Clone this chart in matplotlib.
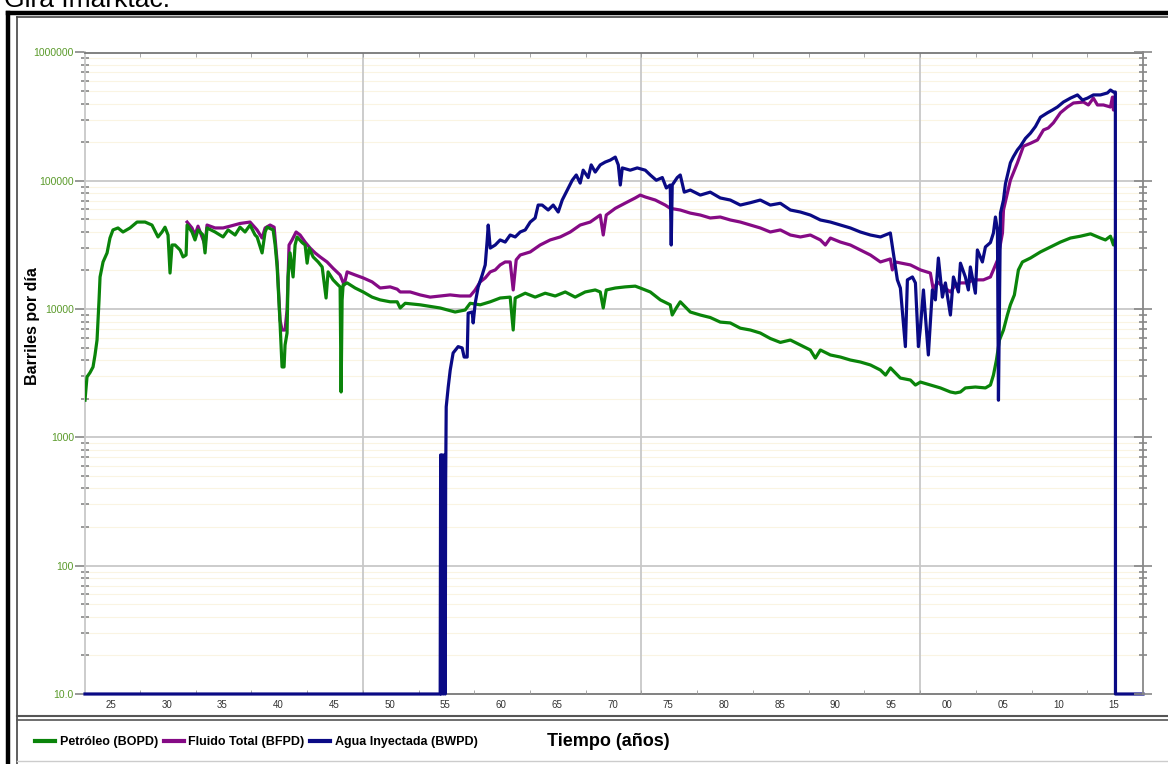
import numpy as np
import matplotlib.pyplot as plt
from matplotlib.lines import Line2D
from matplotlib.ticker import FixedLocator, NullFormatter

W, H = 1168, 764

# ---- data (year, barrels per day) ----
oil_years = [1922.67, 1922.85, 1923.12, 1923.39, 1923.57, 1923.75, 1923.93, 1924.02, 1924.29, 1924.65,
             1924.91, 1925.18, 1925.63, 1926.08, 1926.71, 1927.34, 1928.06, 1928.68, 1929.22, 1929.58,
             1929.85, 1930.12, 1930.30, 1930.48, 1930.75, 1931.20, 1931.47, 1931.74, 1931.83, 1932.27,
             1932.54, 1932.81, 1933.26, 1933.44, 1933.62, 1934.34, 1935.06, 1935.51, 1936.14, 1936.58,
             1937.03, 1937.48, 1937.93, 1938.11, 1938.56, 1938.83, 1939.01, 1939.55, 1939.73, 1939.91,
             1940.17, 1940.26, 1940.35, 1940.53, 1940.62, 1940.80, 1940.89, 1941.07, 1941.34, 1941.52,
             1941.70, 1942.15, 1942.42, 1942.60, 1942.78, 1943.14, 1943.59, 1943.95, 1944.30, 1944.48,
             1944.93, 1945.38, 1945.56, 1945.65, 1945.74, 1945.83, 1946.19, 1946.91, 1947.63, 1948.43,
             1949.15, 1950.05, 1950.68, 1950.95, 1951.40, 1952.74, 1954.54, 1955.88, 1956.78, 1957.23,
             1958.13, 1959.03, 1959.92, 1960.82, 1961.09, 1961.27, 1962.17, 1963.06, 1963.96, 1964.86,
             1965.76, 1966.65, 1967.55, 1968.45, 1968.90, 1969.17, 1969.44, 1970.25, 1971.14, 1972.04,
             1972.49, 1973.39, 1974.29, 1975.18, 1975.36, 1975.72, 1976.08, 1976.98, 1977.88, 1978.77,
             1979.67, 1980.57, 1981.47, 1982.37, 1983.26, 1984.16, 1985.06, 1985.96, 1986.86, 1987.75,
             1988.20, 1988.65, 1989.55, 1990.45, 1991.34, 1992.24, 1993.14, 1994.04, 1994.50, 1994.94,
             1995.83, 1996.73, 1997.18, 1997.63, 1998.52, 1999.42, 2000.32, 2000.77, 2001.22, 2001.66,
             2002.56, 2003.46, 2003.91, 2004.18, 2004.45, 2004.72, 2005.08, 2005.43, 2005.70, 2006.06,
             2006.42, 2006.78, 2007.50, 2008.40, 2009.30, 2010.19, 2011.09, 2011.99, 2012.89, 2013.78,
             2014.23, 2014.68, 2014.95, 2015.10]
oil_bopd = [1950, 2960, 3200, 3540, 4400, 5740, 11800, 17800, 23300, 27400,
            35800, 41400, 42900, 39900, 42900, 47700, 47700, 45200, 36500, 39900,
            43500, 37800, 19100, 31600, 31600, 28900, 25500, 26400, 45200, 39900,
            34600, 41400, 37800, 27400, 42900, 39900, 36500, 41400, 37800, 43500,
            39900, 45200, 37800, 36500, 27400, 39900, 43500, 41400, 31600, 21300,
            7800, 5250, 3540, 3540, 5250, 6510, 17800, 27400, 17800, 31600,
            36500, 33000, 31600, 22800, 29900, 25500, 23300, 21300, 12200, 19500,
            16900, 15400, 14900, 2260, 11800, 15400, 16000, 14600, 13600, 12400,
            11800, 11400, 11400, 10200, 11100, 10800, 10200, 9490, 9840, 11100,
            10800, 11400, 12200, 12400, 6870, 12200, 13300, 12400, 13300, 12650,
            13600, 12400, 13600, 14100, 13600, 10200, 14100, 14600, 14900, 15100,
            14600, 13600, 11800, 10800, 9000, 10200, 11400, 9490, 8990, 8600,
            7920, 7800, 7100, 6870, 6510, 5900, 5500, 5740, 5250, 4800,
            4150, 4800, 4390, 4230, 4010, 3870, 3670, 3350, 3060, 3480,
            2900, 2800, 2560, 2700, 2560, 2430, 2260, 2220, 2260, 2430,
            2470, 2430, 2560, 3060, 4010, 5740, 6870, 8990, 10800, 12900,
            20200, 23300, 25000, 27900, 30500, 33300, 35800, 37000, 38600, 35800,
            34600, 37000, 31600, 35800]

fluid_years = [1931.83, 1932.27, 1932.54, 1932.81, 1933.44, 1933.62, 1934.34, 1935.06, 1935.69, 1936.58,
               1937.48, 1938.11, 1938.56, 1938.83, 1939.28, 1939.64, 1939.91, 1940.17, 1940.35, 1940.62,
               1940.80, 1940.98, 1941.25, 1941.61, 1941.97, 1942.42, 1942.87, 1943.32, 1943.77, 1944.39,
               1944.93, 1945.56, 1945.92, 1946.19, 1946.91, 1947.63, 1948.43, 1949.15, 1950.05, 1950.68,
               1950.95, 1951.85, 1952.74, 1953.64, 1954.54, 1955.43, 1956.33, 1957.23, 1957.68, 1958.13,
               1958.58, 1959.03, 1959.48, 1959.92, 1960.37, 1960.82, 1961.09, 1961.36, 1961.72, 1962.62,
               1963.51, 1964.41, 1965.31, 1966.21, 1967.10, 1968.00, 1968.90, 1969.17, 1969.44, 1970.25,
               1971.14, 1972.04, 1972.49, 1972.94, 1973.84, 1974.73, 1975.18, 1976.08, 1976.98, 1977.88,
               1978.77, 1979.67, 1980.57, 1981.47, 1982.37, 1983.26, 1984.16, 1985.06, 1985.96, 1986.86,
               1987.75, 1988.65, 1989.10, 1989.55, 1990.45, 1991.34, 1992.24, 1993.14, 1994.04, 1994.93,
               1995.11, 1995.38, 1996.73, 1997.63, 1998.52, 1998.79, 1999.15, 1999.69, 2000.32, 2000.77,
               2001.22, 2001.84, 2002.38, 2003.28, 2003.91, 2004.54, 2004.99, 2005.08, 2005.70, 2006.33,
               2006.87, 2007.50, 2008.13, 2008.67, 2009.10, 2009.56, 2010.19, 2010.82, 2011.36, 2012.26,
               2012.70, 2013.15, 2013.51, 2014.05, 2014.68, 2014.86, 2014.95, 2015.12]
fluid_bfpd = [47700, 42900, 37800, 44300, 31600, 45200, 42900, 42900, 44300, 46500,
              47700, 41400, 35800, 42900, 45200, 43500, 23300, 8220, 6870, 6870,
              9840, 31600, 34600, 39900, 37800, 33300, 29900, 27400, 25500, 23300,
              20800, 18450, 15400, 19500, 18450, 17500, 16300, 14600, 14900, 14300,
              13600, 13600, 12900, 12400, 12650, 12900, 12650, 12650, 14100, 16300,
              17500, 19500, 20200, 22100, 23300, 23300, 14100, 24200, 26400, 27900,
              31600, 34600, 36500, 39900, 45200, 47700, 54100, 37800, 54100, 61000,
              67000, 73500, 77400, 74800, 70800, 64700, 61000, 59200, 56000, 54100,
              51300, 52200, 49500, 47700, 45200, 42900, 39900, 41400, 37800, 36500,
              37800, 34600, 31600, 35800, 33300, 31600, 28900, 26400, 23300, 24600,
              20200, 23300, 22100, 20200, 19100, 14100, 16300, 14900, 13600, 15400,
              16000, 16000, 16900, 16900, 17800, 24000, 39200, 59200, 101000, 138000,
              186000, 196000, 208000, 249000, 258000, 283000, 339000, 376000, 404000, 411000,
              390000, 441000, 390000, 390000, 376000, 449000, 356000, 467000]

water_years = [1922.67, 1954.54, 1954.58, 1954.63, 1954.72, 1954.81, 1954.90, 1954.99, 1955.03, 1955.08,
               1955.26, 1955.44, 1955.70, 1956.15, 1956.51, 1956.69, 1956.96, 1957.05, 1957.41, 1957.50,
               1957.68, 1957.95, 1958.31, 1958.58, 1958.76, 1958.85, 1959.03, 1959.48, 1959.92, 1960.37,
               1960.82, 1961.27, 1961.72, 1962.17, 1962.62, 1963.06, 1963.33, 1963.69, 1964.23, 1964.68,
               1965.13, 1965.49, 1965.94, 1966.39, 1966.75, 1967.10, 1967.37, 1967.82, 1968.09, 1968.45,
               1968.90, 1969.35, 1969.80, 1970.25, 1970.52, 1970.70, 1970.88, 1971.59, 1972.22, 1972.94,
               1973.39, 1973.93, 1974.47, 1974.83, 1975.18, 1975.27, 1975.36, 1975.81, 1976.08, 1976.44,
               1976.98, 1977.88, 1978.77, 1979.67, 1980.57, 1981.47, 1982.37, 1983.26, 1984.16, 1985.06,
               1985.96, 1986.86, 1987.75, 1988.65, 1989.55, 1990.45, 1991.34, 1992.24, 1993.14, 1994.04,
               1994.93, 1995.20, 1995.56, 1995.83, 1996.28, 1996.46, 1996.91, 1997.18, 1997.45, 1997.63,
               1997.90, 1998.34, 1998.70, 1998.97, 1999.24, 1999.60, 1999.87, 2000.32, 2000.59, 2001.04,
               2001.22, 2001.66, 2001.93, 2002.11, 2002.56, 2002.74, 2003.19, 2003.46, 2003.91, 2004.18,
               2004.36, 2004.54, 2004.63, 2004.81, 2005.08, 2005.26, 2005.70, 2005.97, 2006.33, 2006.60,
               2007.05, 2007.50, 2007.95, 2008.40, 2009.03, 2009.47, 2009.92, 2010.46, 2011.09, 2011.72,
               2012.17, 2012.62, 2013.15, 2013.78, 2014.41, 2014.68, 2014.95, 2015.12, 2015.13, 2017.60]
water_bwpd = [10, 10, 730, 10, 730, 10, 730, 10, 466, 1730,
              2470, 3350, 4550, 5100, 4980, 4230, 4230, 9300, 9490, 7800,
              11100, 14900, 18450, 22100, 34600, 45200, 29900, 31600, 34600, 33300,
              37800, 36500, 39900, 41400, 47700, 51300, 64700, 64700, 59200, 64700,
              57100, 70800, 84700, 101000, 111000, 96000, 121000, 106000, 133000, 117000,
              133000, 140000, 145000, 153000, 133000, 92700, 126000, 121000, 126000, 121000,
              111000, 101000, 106000, 87900, 92700, 31600, 92700, 106000, 111000, 81600,
              84700, 77400, 81600, 73500, 70800, 64700, 67500, 70800, 64700, 66800,
              59200, 57100, 54100, 49500, 47700, 45200, 42900, 39900, 37800, 36500,
              39200, 27400, 16900, 14600, 5100, 16900, 17800, 16000, 5100, 7200,
              14100, 4390, 14100, 11800, 25000, 12400, 16000, 8990, 17800, 13600,
              22800, 17800, 14100, 21300, 13300, 28900, 23300, 30500, 33000, 39200,
              52200, 41400, 1950, 56000, 70800, 95000, 138000, 154000, 174000, 186000,
              214000, 235000, 265000, 313000, 339000, 356000, 376000, 411000, 441000, 467000,
              426000, 441000, 467000, 467000, 484000, 510000, 492000, 492000, 10, 10]

x_tick_years = list(range(1925, 2016, 5))
x_tick_labels = ['25', '30', '35', '40', '45', '50', '55', '60', '65', '70',
                 '75', '80', '85', '90', '95', '00', '05', '10', '15']
y_tick_values = [10, 100, 1000, 10000, 100000, 1000000]
y_tick_labels = ['10.0', '100', '1000', '10000', '100000', '1000000']
grid_years = [1947.6, 1972.6, 1997.6]

series_names = ['Petróleo (BOPD)', 'Fluido Total (BFPD)', 'Agua Inyectada (BWPD)']
c_oil, c_fluid, c_water = '#0a840a', '#850a85', '#0a0a85'

plt.rcParams['font.family'] = ['Liberation Sans', 'DejaVu Sans']

fig = plt.figure(figsize=(W / 100, H / 100), dpi=100)


def fx(x):
    return x / W


def fy(y):
    return 1 - y / H


# frames around the chart
fig.add_artist(Line2D([fx(8), fx(8)], [fy(13), 0], color='black', lw=3.2))
fig.add_artist(Line2D([fx(8), 1], [fy(13), fy(13)], color='black', lw=3.2))
fig.add_artist(Line2D([fx(17), fx(17)], [fy(17), 0], color='#444444', lw=1.2))
fig.add_artist(Line2D([fx(17), 1], [fy(17), fy(17)], color='#444444', lw=1.2))
fig.add_artist(Line2D([fx(17), 1], [fy(716), fy(716)], color='#555555', lw=1.5))
fig.add_artist(Line2D([fx(17), 1], [fy(720), fy(720)], color='#555555', lw=1.2))
fig.add_artist(Line2D([fx(17), 1], [fy(761), fy(761)], color='#cccccc', lw=1.0))

# caption of the page above the chart, cut by the crop as in the source
fig.text(fx(4), fy(7), 'Gira Imarktac.', fontsize=19, va='baseline', ha='left')

ax = fig.add_axes([fx(85), fy(694), fx(1143 - 85), (694 - 52.5) / H])
ax.set_yscale('log')
ax.set_xlim(1922.67, 2017.6)
ax.set_ylim(10, 1e6)

# grid
for dec in range(1, 6):
    for m in range(2, 10):
        ax.axhline(m * 10 ** dec, color='#faf4e2', lw=0.8, zorder=0)
for v in y_tick_values[1:-1]:
    ax.axhline(v, color='#c8c8c8', lw=1.3, zorder=0)
for g in grid_years:
    ax.axvline(g, color='#c8c8c8', lw=1.3, zorder=0)

ax.plot(fluid_years, fluid_bfpd, color=c_fluid, lw=2.3, zorder=3)
ax.plot(oil_years, oil_bopd, color=c_oil, lw=2.3, zorder=4)
ax.plot(water_years, water_bwpd, color=c_water, lw=2.3, zorder=5, clip_on=False)

ax.set_xticks(x_tick_years)
ax.set_xticklabels(x_tick_labels)
ax.xaxis.set_minor_locator(FixedLocator(np.arange(1927.6, 2017.7, 5)))
ax.tick_params(axis='x', which='major', length=0, labelsize=7, labelcolor='#333333', pad=4)
ax.tick_params(axis='x', which='minor', direction='in', length=3, color='#999999', top=True)

ax.set_yticks(y_tick_values)
ax.set_yticklabels(y_tick_labels)
ax.yaxis.set_minor_formatter(NullFormatter())
ax.tick_params(axis='y', which='major', direction='out', length=7, width=1.2, color='#888888',
               labelsize=7.5, labelcolor='#5a9a2a', pad=1)
ax.tick_params(axis='y', which='minor', direction='inout', length=6, width=1.2, color='#888888')

ax2 = ax.twinx()
ax2.set_yscale('log')
ax2.set_ylim(10, 1e6)
ax2.set_yticks(y_tick_values)
ax2.yaxis.set_major_formatter(NullFormatter())
ax2.yaxis.set_minor_formatter(NullFormatter())
ax2.tick_params(axis='y', which='major', direction='inout', length=13, width=1.2, color='#888888')
ax2.tick_params(axis='y', which='minor', direction='inout', length=6, width=1.2, color='#888888')
for side in ('left', 'top', 'bottom'):
    ax2.spines[side].set_visible(False)
ax2.spines['right'].set_color('#888888')
ax2.spines['right'].set_linewidth(1.3)

ax.spines['left'].set_color('#c8c8c8')
ax.spines['top'].set_color('#777777')
ax.spines['bottom'].set_color('#777777')
ax.spines['right'].set_visible(False)
for s in ax.spines.values():
    s.set_linewidth(1.3)
ax.spines['bottom'].set_zorder(1)

fig.text(fx(33), fy(326), 'Barriles por día', rotation=90, fontsize=11.5, fontweight='bold',
         ha='center', va='center')

handles = [Line2D([], [], color=c, lw=3) for c in (c_oil, c_fluid, c_water)]
fig.legend(handles, series_names, loc='center left', bbox_to_anchor=(fx(24), fy(742)),
           ncol=3, frameon=False, handlelength=1.6, handletextpad=0.4, columnspacing=0.4,
           prop={'size': 9, 'weight': 'bold'})
fig.text(fx(547), fy(742), 'Tiempo (años)', fontsize=13, fontweight='bold', ha='left', va='center')

fig.savefig('out.png', dpi=100)
